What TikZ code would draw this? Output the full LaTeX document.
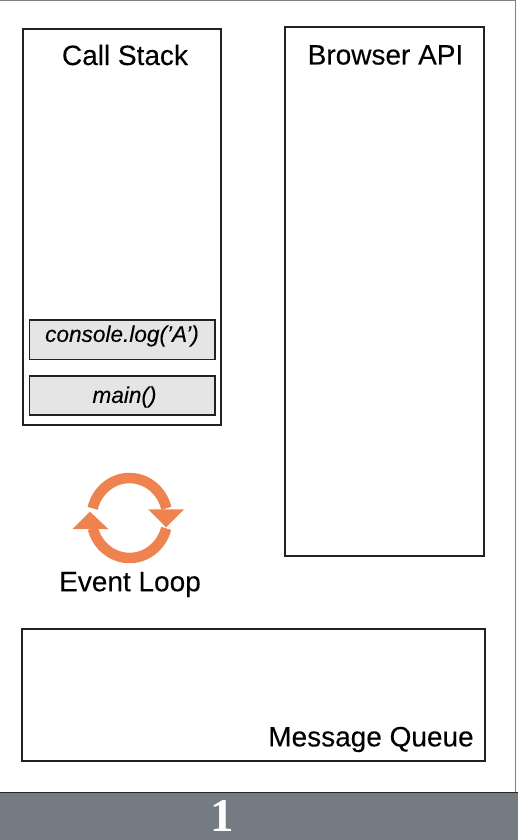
\documentclass[tikz,border=0pt]{standalone}
\usepackage{fontspec}
\setmainfont[FakeBold=0.15]{Liberation Sans}
\newfontfamily\serifnum{Liberation Serif}
\definecolor{loopc}{HTML}{EE8350}
\definecolor{barc}{HTML}{747B83}
\definecolor{linec}{HTML}{222222}
\tikzset{
  panel/.style={draw=linec,line width=1.2pt,fill=white},
  frame/.style={draw=linec,line width=1.3pt,fill=black!10},
  titletext/.style={font=\fontsize{28}{30}\selectfont,text=black,inner sep=0pt},
  calltext/.style={font=\fontsize{22.6}{26}\selectfont\itshape,text=black,inner sep=0pt},
  looparc/.style={draw=loopc,line width=10.5pt},
  loophead/.style={fill=loopc,draw=none}
}
\begin{document}
\begin{tikzpicture}[x=1pt,y=1pt]
\useasboundingbox (0,-840) rectangle (518,0);
\fill[white] (0,-840) rectangle (518,0);
% outer frame
\draw[draw=black!50,line width=1.6pt] (0,-0.5) -- (515.5,-0.5) -- (515.5,-792);
% panels
\draw[panel] (23,-29) rectangle (221,-425);
\draw[panel] (285,-27) rectangle (484,-556);
\draw[panel] (22,-629) rectangle (485,-761);
\draw[frame] (29.5,-320) rectangle (215,-359.5);
\draw[frame] (29.5,-376) rectangle (215,-415);
% labels
\node[titletext] (callstack) at (125,-55) {Call Stack};
\node[titletext] (browserapi) at (385.5,-55) {Browser API};
\node[titletext] (queue) at (371,-739.5) {Message Queue};
\node[titletext] (eventloop) at (130,-584.5) {Event Loop};
\node[calltext] (consolelog) at (122,-336) {console.log(’A’)};
\node[calltext] (mainfn) at (124.5,-397) {main()};
% event loop icon
\draw[looparc] (129.5,-518) ++(166:38 and 40) arc[start angle=166,end angle=14,x radius=38,y radius=40];
\draw[looparc] (129.5,-518) ++(-15:38 and 40) arc[start angle=-15,end angle=-165,x radius=38,y radius=40];
\fill[loophead] (148.3,-509.3) -- (184,-509.3) -- (166,-527.3) -- cycle;
\fill[loophead] (72.7,-529) -- (108.3,-529) -- (90,-511.7) -- cycle;
% footer
\fill[barc] (0,-840) rectangle (518,-792.5);
\draw[draw=black!85,line width=1.2pt] (0,-792.5) -- (518,-792.5);
\node[font=\fontsize{47}{50}\selectfont\serifnum\bfseries,text=white,inner sep=0pt] (pagenum) at (222.5,-816) {1};
\end{tikzpicture}
\end{document}
